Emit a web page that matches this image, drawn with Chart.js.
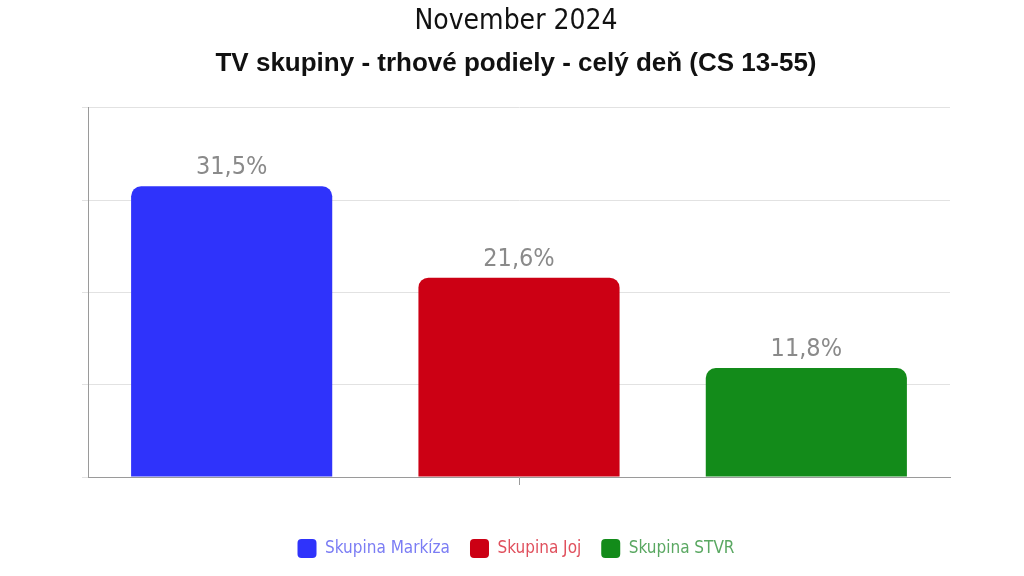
<!DOCTYPE html>
<html>
<head>
<meta charset="utf-8">
<script src="https://cdn.jsdelivr.net/npm/chart.js@4/dist/chart.umd.min.js"></script>
<style>
  html, body { margin: 0; padding: 0; background: #fff; }
  #wrap { width: 1024px; height: 576px; }
</style>
</head>
<body>
<div id="wrap"><canvas id="chart"></canvas></div>
<script>
const categories = ['November 2024'];
const groups = ['Skupina Markíza', 'Skupina Joj', 'Skupina STVR'];
const shares = [31.5, 21.6, 11.8];
const colors = ['#2f33fb', '#cc0014', '#138b1a'];
const legendColors = ['#7b7df4', '#e0505d', '#5aa862'];

const narrow = "'Liberation Sans Narrow', 'DejaVu Sans Condensed', 'Roboto Condensed', sans-serif";

// draws the value above each bar, decimal comma
const valueLabels = {
  id: 'valueLabels',
  afterDatasetsDraw(chart) {
    const ctx = chart.ctx;
    ctx.save();
    ctx.font = '25px ' + narrow;
    ctx.fillStyle = '#8a8a8a';
    ctx.textAlign = 'center';
    ctx.textBaseline = 'bottom';
    chart.data.datasets.forEach((ds, i) => {
      chart.getDatasetMeta(i).data.forEach((bar, j) => {
        const v = ds.data[j];
        ctx.fillText(v.toFixed(1).replace('.', ',') + '%', bar.x, bar.y - 6);
      });
    });
    ctx.restore();
  }
};

new Chart(document.getElementById('chart'), {
  type: 'bar',
  data: {
    labels: categories,
    datasets: groups.map((g, i) => ({
      label: g,
      data: [shares[i]],
      backgroundColor: colors[i],
      borderRadius: { topLeft: 10, topRight: 10 },
      borderSkipped: 'start',
      categoryPercentage: 1.0,
      barPercentage: 0.7
    }))
  },
  options: {
    responsive: true,
    maintainAspectRatio: false,
    animation: false,
    layout: { padding: { left: 82, right: 74, top: 0, bottom: 8 } },
    scales: {
      x: {
        ticks: { display: false },
        grid: { display: true, offset: false, drawOnChartArea: false, tickLength: 8, color: '#9a9a9a' },
        border: { color: '#9a9a9a' },
        afterFit(axis) { axis.height += 34; }
      },
      y: {
        min: 0,
        max: 40,
        ticks: { display: false, stepSize: 10 },
        grid: { color: '#e2e2e2', tickLength: 6 },
        border: { color: '#9a9a9a' }
      }
    },
    plugins: {
      title: {
        display: true,
        text: 'November 2024',
        color: '#111',
        font: { family: narrow, size: 28, weight: 'normal' },
        padding: { top: 5, bottom: 10 }
      },
      subtitle: {
        display: true,
        text: 'TV skupiny - trhové podiely - celý deň (CS 13-55)',
        color: '#111',
        font: { family: "'Liberation Sans', Arial, sans-serif", size: 26, weight: 'bold' },
        padding: { bottom: 28 }
      },
      legend: {
        position: 'bottom',
        labels: {
          font: { family: narrow, size: 17 },
          boxWidth: 19,
          boxHeight: 19,
          padding: 20,
          useBorderRadius: true,
          generateLabels(chart) {
            return chart.data.datasets.map((ds, i) => ({
              text: ds.label,
              fillStyle: colors[i],
              strokeStyle: colors[i],
              fontColor: legendColors[i],
              lineWidth: 0,
              borderRadius: 4,
              datasetIndex: i
            }));
          }
        }
      },
      tooltip: { enabled: false }
    }
  },
  plugins: [valueLabels]
});
</script>
</body>
</html>
